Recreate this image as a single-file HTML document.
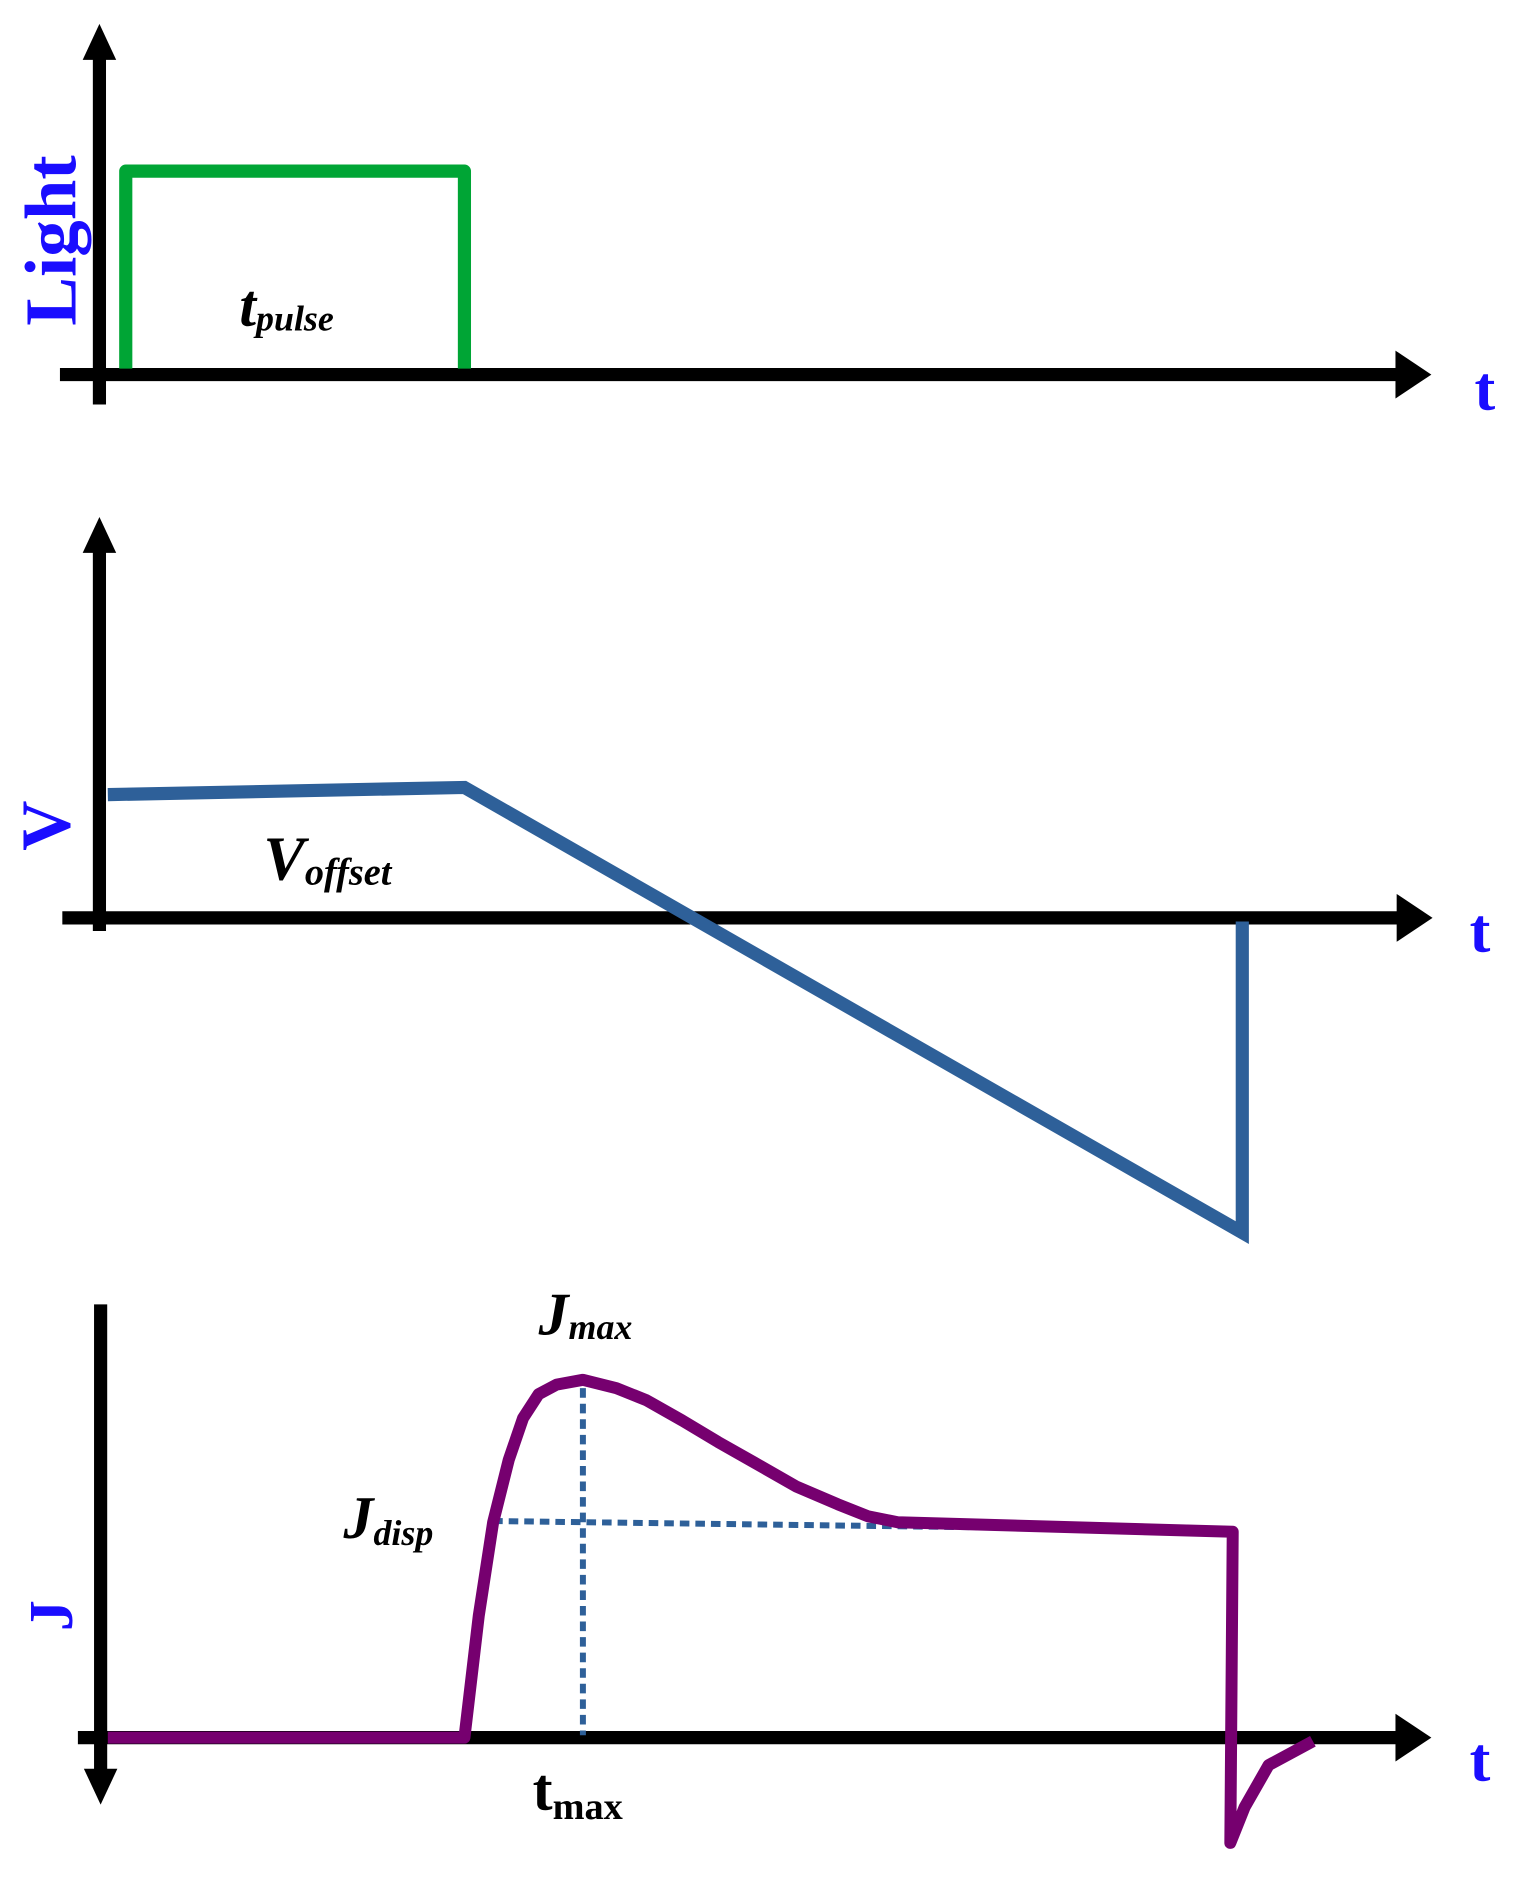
<!DOCTYPE html>
<html><head><style>html,body{margin:0;padding:0;background:#fff}svg{display:block}</style></head><body>
<svg width="1532" height="1892" viewBox="0 0 1280 1581" xmlns="http://www.w3.org/2000/svg" font-family="Liberation Serif, serif">
<!-- Panel 1 -->
<line x1="83" y1="48" x2="83" y2="338" stroke="#000" stroke-width="11"/>
<polygon points="83,20 69,50 97,50" fill="#000"/>
<line x1="50" y1="313" x2="1170" y2="313" stroke="#000" stroke-width="11"/>
<polygon points="1196,313 1166,293 1166,333" fill="#000"/>
<polyline points="105,308 105,143 388,143 388,308" fill="none" stroke="#00a535" stroke-width="11" stroke-linejoin="round"/>
<text transform="translate(63,201) rotate(-90)" text-anchor="middle" font-weight="bold" font-size="61" fill="#1a0dff">Light</text>
<text x="1232" y="342" font-weight="bold" font-size="52" fill="#1a0dff">t</text>
<text x="200" y="272" font-weight="bold" font-style="italic" font-size="50" fill="#000">t<tspan font-size="30" dy="4">pulse</tspan></text>
<!-- Panel 2 -->
<line x1="83" y1="460" x2="83" y2="778" stroke="#000" stroke-width="11"/>
<polygon points="83,432 69,462 97,462" fill="#000"/>
<line x1="52" y1="767" x2="1170" y2="767" stroke="#000" stroke-width="11"/>
<polygon points="1197,767 1167,747 1167,787" fill="#000"/>
<polyline points="90,664 388,658 1038,1030 1038,770" fill="none" stroke="#2e6099" stroke-width="11"/>
<text transform="translate(58,690) rotate(-90)" text-anchor="middle" font-weight="bold" font-size="58" fill="#1a0dff">V</text>
<text x="1228" y="795" font-weight="bold" font-size="52" fill="#1a0dff">t</text>
<text x="220" y="735" font-weight="bold" font-style="italic" font-size="52" fill="#000">V<tspan font-size="32" dy="4">offset</tspan></text>
<!-- Panel 3 -->
<line x1="84" y1="1090" x2="84" y2="1482" stroke="#000" stroke-width="11"/>
<polygon points="84,1508 70,1478 98,1478" fill="#000"/>
<line x1="65" y1="1452" x2="1170" y2="1452" stroke="#000" stroke-width="11"/>
<polygon points="1196,1452 1166,1432 1166,1472" fill="#000"/>
<line x1="487" y1="1160" x2="487" y2="1450" stroke="#2e6099" stroke-width="5" stroke-dasharray="8,5"/>
<line x1="412" y1="1271" x2="1030" y2="1279" stroke="#2e6099" stroke-width="5" stroke-dasharray="8,5"/>
<polyline points="90,1452 388,1452 400,1350 412,1272 425,1220 437,1185 450,1165 465,1157 487,1153 515,1160 540,1170 570,1187 600,1205 630,1222 665,1242 700,1257 725,1267 750,1272 1030,1280 1028,1540 1040,1510 1060,1475 1097,1455" fill="none" stroke="#76006f" stroke-width="10" stroke-linejoin="round"/>
<text transform="translate(60,1350) rotate(-90)" text-anchor="middle" font-weight="bold" font-size="52" fill="#1a0dff">J</text>
<text x="1228" y="1488" font-weight="bold" font-size="52" fill="#1a0dff">t</text>
<text x="450" y="1115" font-weight="bold" font-style="italic" font-size="50" fill="#000">J<tspan font-size="30" dy="4">max</tspan></text>
<text x="287" y="1285" font-weight="bold" font-style="italic" font-size="50" fill="#000">J<tspan font-size="30" dy="6">disp</tspan></text>
<text x="445" y="1512" font-weight="bold" font-size="50" fill="#000">t<tspan font-size="32" dy="8">max</tspan></text>
</svg>
</body></html>
